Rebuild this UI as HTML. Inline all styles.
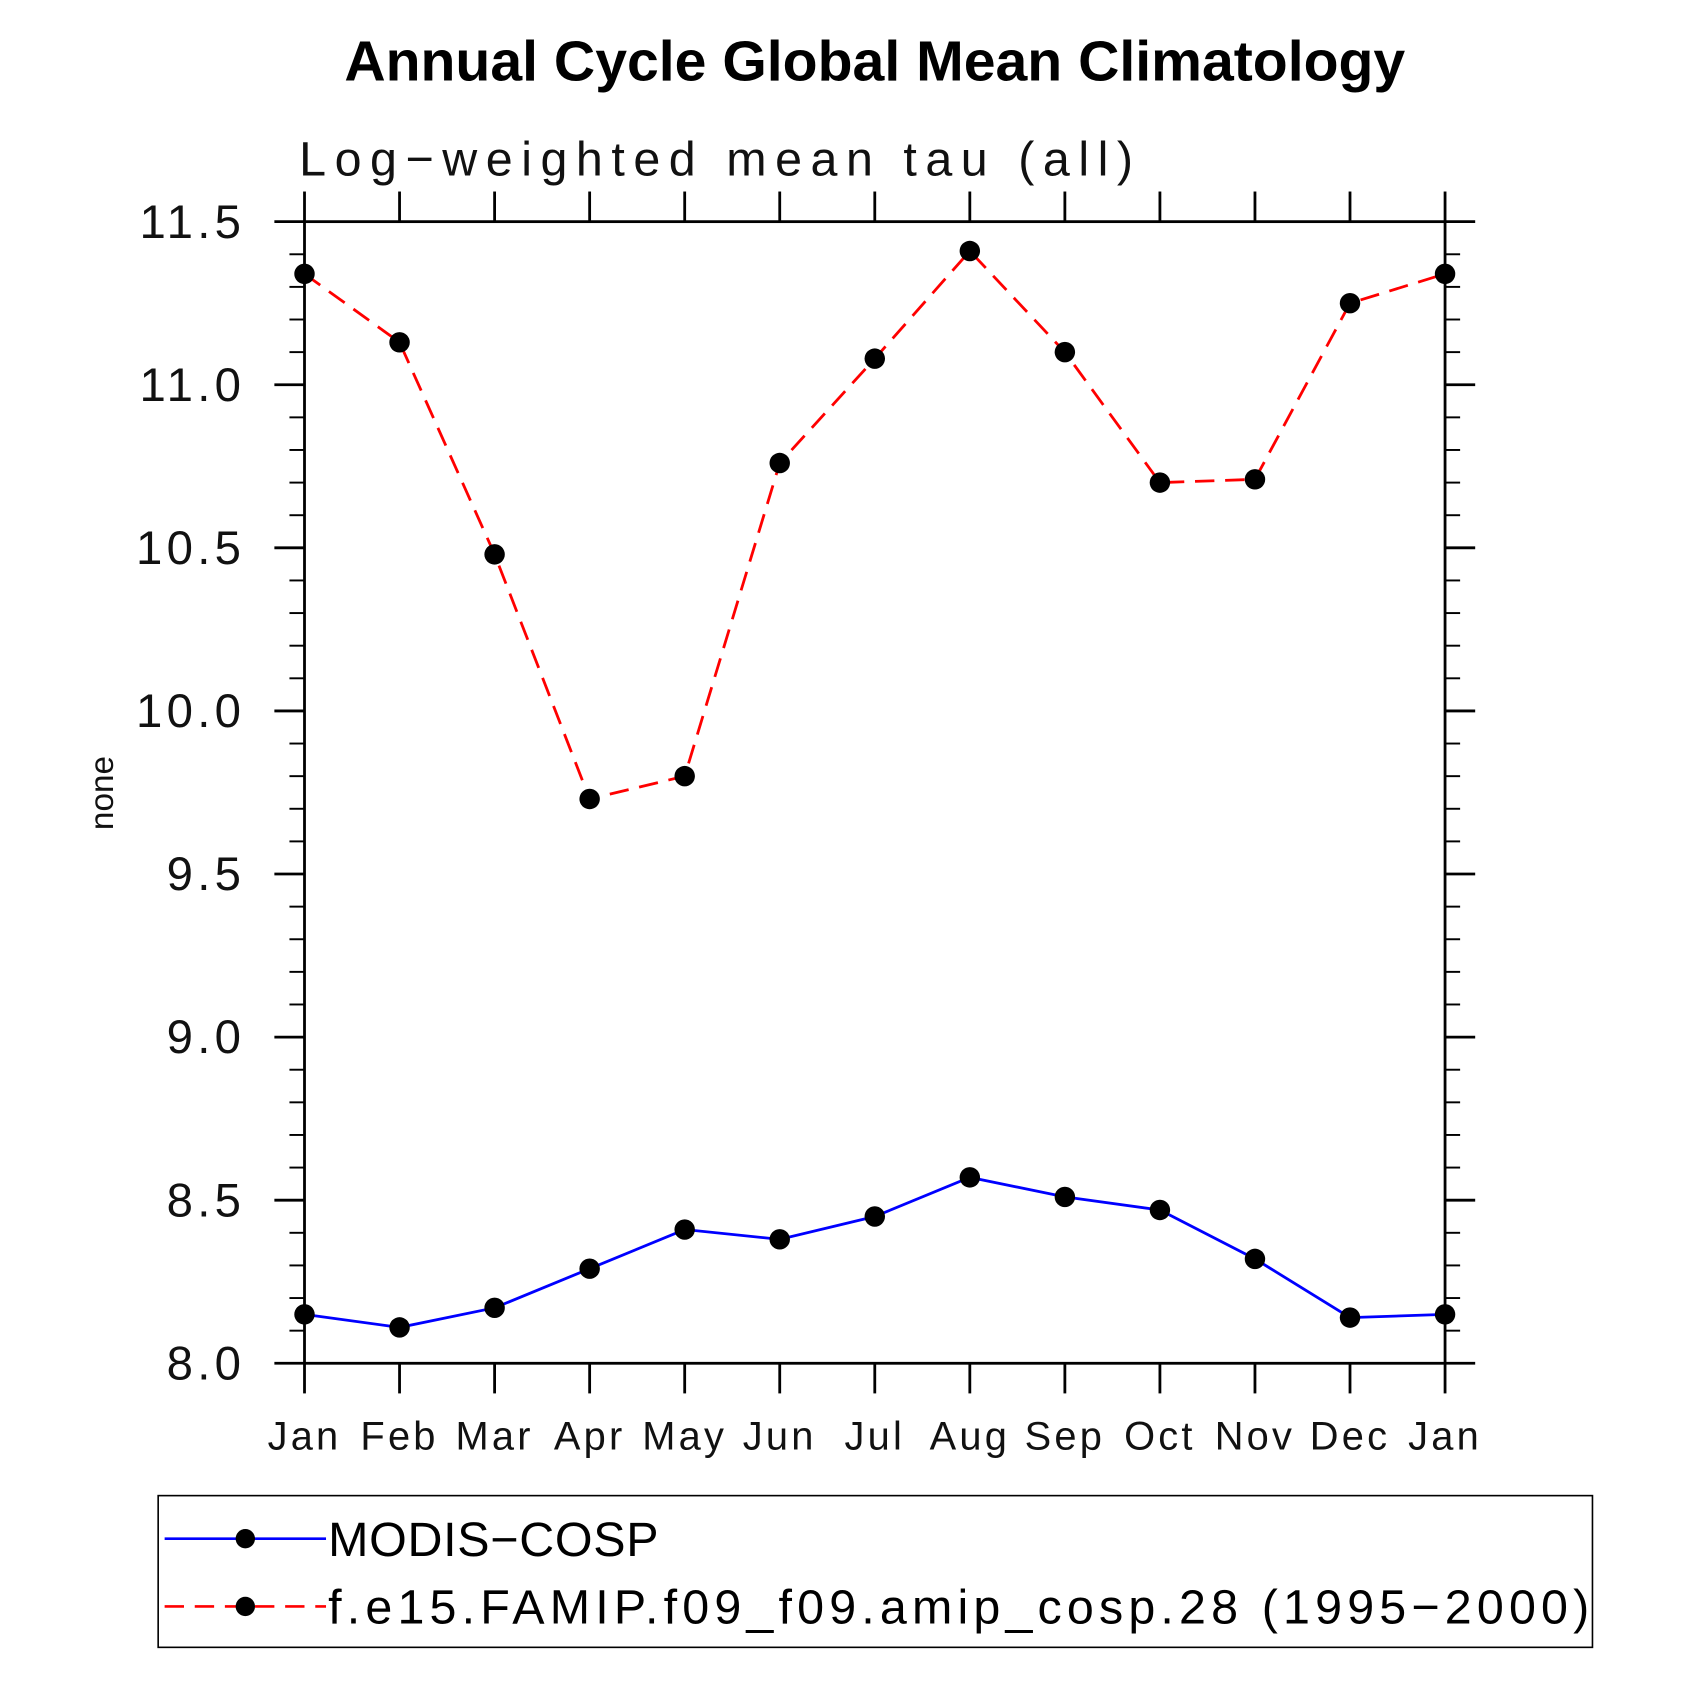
<!DOCTYPE html>
<html><head><meta charset="utf-8"><style>
html,body{margin:0;padding:0;background:#fff;}
svg{display:block;}
text{font-family:"Liberation Sans",sans-serif;}
</style></head><body>
<svg id="chart" width="1685" height="1685" viewBox="0 0 1566 1566" xmlns="http://www.w3.org/2000/svg">
<text x="320" y="75" textLength="986" lengthAdjust="spacingAndGlyphs" font-size="53" font-weight="bold">Annual Cycle Global Mean Climatology</text>
<text x="278" y="163" textLength="775" lengthAdjust="spacing" font-size="45" font-weight="300" fill="#111">Log−weighted mean tau (all)</text>
<text transform="translate(105,737) rotate(-90)" text-anchor="middle" font-size="31" fill="#111">none</text>
<g id="axes"></g>
<g id="marks"></g>
<g>
<rect x="147" y="1390" width="1333" height="141" fill="none" stroke="#000" stroke-width="1.5"/>
<line x1="153" y1="1430" x2="303" y2="1430" stroke="#0000ff" stroke-width="2.4"/>
<circle cx="228" cy="1430" r="9" fill="#000"/>
<text x="305" y="1446" textLength="307" lengthAdjust="spacing" font-size="45" font-weight="300">MODIS−COSP</text>
<line x1="153" y1="1493" x2="303" y2="1493" stroke="#ff0000" stroke-width="2.4" stroke-dasharray="18,10"/>
<circle cx="228" cy="1493" r="9" fill="#000"/>
<text x="305" y="1509" textLength="1172" lengthAdjust="spacing" font-size="45" font-weight="300">f.e15.FAMIP.f09_f09.amip_cosp.28 (1995−2000)</text>
</g>
</svg>
<script>
const months = ["Jan","Feb","Mar","Apr","May","Jun","Jul","Aug","Sep","Oct","Nov","Dec","Jan"];
const modisValues = [8.15,8.11,8.17,8.29,8.41,8.38,8.45,8.57,8.51,8.47,8.32,8.14,8.15];
const modelValues = [11.34,11.13,10.48,9.73,9.80,10.76,11.08,11.41,11.10,10.70,10.71,11.25,11.34];
const yTicks = [8.0,8.5,9.0,9.5,10.0,10.5,11.0,11.5];
const yTickLabels = ["8.0","8.5","9.0","9.5","10.0","10.5","11.0","11.5"];

const NS="http://www.w3.org/2000/svg";
const L=283,R=1343,T=206,B=1267,yMin=8,yMax=11.5;
function xs(i){return L+(R-L)*i/(months.length-1);}
function ys(v){return B-(B-T)*(v-yMin)/(yMax-yMin);}
function mk(tag,attrs,parent){const e=document.createElementNS(NS,tag);for(const k in attrs)e.setAttribute(k,attrs[k]);parent.appendChild(e);return e;}
const axes=document.getElementById('axes');
const marks=document.getElementById('marks');
const frame=mk('rect',{x:L,y:T,width:R-L,height:B-T,fill:'none',stroke:'#000','stroke-width':2.6},axes);


yTicks.forEach((v,i)=>{
  const y=ys(v);
  const t1=mk('line',{x1:L-28,y1:y,x2:L,y2:y,stroke:'#000','stroke-width':2.6},axes);
  
  
  const t2=mk('line',{x1:R,y1:y,x2:R+28,y2:y,stroke:'#000','stroke-width':2.6},axes);
  
  
  const lb=mk('text',{x:L-55,y:y+15,'text-anchor':'end','font-size':44,'font-weight':300,'letter-spacing':4,fill:'#111'},axes);
  lb.textContent=yTickLabels[i];
  
  
});
for(let v=yMin;v<yMax-1e-6;v+=0.5){
  for(let k=1;k<5;k++){
    const y=ys(v+k*0.1);
    const m1=mk('line',{x1:L-14,y1:y,x2:L,y2:y,stroke:'#000','stroke-width':1.8},axes);
    
    
    const m2=mk('line',{x1:R,y1:y,x2:R+14,y2:y,stroke:'#000','stroke-width':1.8},axes);
    
    
  }
}
months.forEach((m,i)=>{
  const x=xs(i);
  const b=mk('line',{x1:x,y1:B,x2:x,y2:B+28,stroke:'#000','stroke-width':2.6},axes);
  
  
  const t=mk('line',{x1:x,y1:T-28,x2:x,y2:T,stroke:'#000','stroke-width':2.6},axes);
  
  
  const lb=mk('text',{x:x,y:B+80,'text-anchor':'middle','font-size':37,'font-weight':300,'letter-spacing':3,fill:'#111'},axes);
  lb.textContent=m;
  
  
});
function series(vals,color,dash,name){
  const pts=vals.map((v,i)=>xs(i)+','+ys(v)).join(' ');
  const a={points:pts,fill:'none',stroke:color,'stroke-width':2.6};
  if(dash)a['stroke-dasharray']=dash;
  const pl=mk('polyline',a,marks);
  
  
  vals.forEach((v,i)=>{
    const c=mk('circle',{cx:xs(i),cy:ys(v),r:9.5,fill:'#000'},marks);
    
    
  });
}
series(modisValues,'#0000ff',null,'modis-cosp');
series(modelValues,'#ff0000','18,10','model');
</script>
</body></html>
